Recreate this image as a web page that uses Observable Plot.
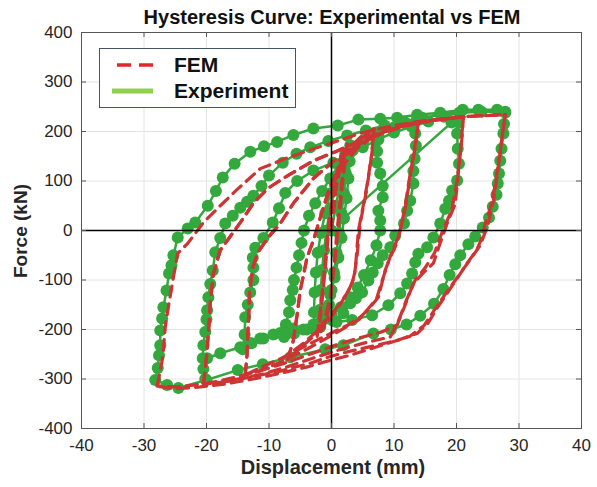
<!DOCTYPE html>
<html>
<head>
<meta charset="utf-8">
<script src="https://cdn.jsdelivr.net/npm/d3@7"></script>
<script src="https://cdn.jsdelivr.net/npm/@observablehq/plot@0.6"></script>
<style>
  body { margin: 0; background: #fff; }
  #chart { width: 597px; height: 487px; }
  svg text { font-family: "Liberation Sans", Arial, sans-serif; }
</style>
</head>
<body>
<div id="chart"></div>
<script>
// Axis ticks
const xTicks = [-40, -30, -20, -10, 0, 10, 20, 30, 40];
const yTicks = [-400, -300, -200, -100, 0, 100, 200, 300, 400];

// Experimental record, [displacement mm, force kN], in loading order
const expSmall = [
  [0,0],[0.7,50],[1.4,95],[2.0,130],[2.5,150],
  [2.3,115],[2.0,75],[1.6,35],[1.2,-5],[0.8,-45],[0.4,-85],[0,-120],[-0.4,-150],[-1.0,-175],[-1.8,-195],
  [-1.8,-160],[-1.7,-120],[-1.5,-80],[-1.2,-40],[-0.8,0],[-0.2,45],[0.6,90],[1.4,125],[2.2,155],[3.0,172],
  [2.9,140],[2.7,105],[2.4,65],[2.0,25],[1.6,-15],[1.1,-55],[0.5,-95],[-0.2,-130],[-0.9,-160],[-1.8,-185],[-2.8,-200]
];
const exp7 = [
  [-2.8,-165],[-2.7,-125],[-2.5,-85],[-2.2,-45],[-1.7,-5],[-1.0,35],[-0.2,75],[0.8,110],[2.0,140],[3.4,162],[5.0,180],[7.0,197],
  [7.2,181],[7.3,160],[7.3,137],[7.8,115],[8.2,90],[8.2,67],[7.5,40],[7.8,20],[7.8,0],[7.2,-30],[6.3,-60],[5.2,-90],[4.2,-115],
  [3.0,-135],[1.5,-155],[0,-172],[-2,-188],[-4,-200],[-6,-208],[-7.6,-215]
];
const exp14 = [
  [-7.3,-190],[-6.8,-165],[-6.6,-141],[-6.2,-120],[-6,-100],[-5.6,-75],[-5.2,-50],[-4.8,-25],[-4.4,0],[-3.6,30],[-2.6,55],
  [-1.5,80],[-0.2,105],[1.4,135],[3,158],[5,178],[7.5,195],[10,208],[12,216],[13.6,222],
  [13.4,196],[13.5,171],[13.3,145],[13.1,120],[13.1,95],[12.6,60],[12.1,40],[11.6,14],[10.2,-10],[9.4,-34],[8.2,-50],[7.4,-66],
  [6.6,-85],[5.9,-101],[4.9,-125],[3.9,-137],[3,-147],[1.9,-167],[0.2,-182],[-2,-192],[-4.5,-200],[-7,-207],[-9.3,-210],
  [-11.4,-218],[-13,-228],[-14.2,-240]
];
const exp21 = [
  [-13.9,-210],[-13.8,-175],[-13.4,-150],[-13.0,-125],[-12.5,-100],[-12.5,-75],[-12.6,-55],[-12.2,-35],[-10.9,-15],[-9.4,16],
  [-8.4,45],[-7.4,76],[-5.5,100],[-2.9,121],[0.3,137],[2.5,150],[5,168],[7.5,184],[10,198],[12.8,210],[15.5,220],[18,230],[20.5,238],
  [20.3,218],[20.1,196],[20.2,165],[20.4,135],[20.1,101],[19.3,81],[18.8,60],[18.2,44],[17.4,14],[16.3,-14],[15.3,-34],[13.9,-47],
  [13.4,-64],[12.9,-87],[12.1,-107],[11,-127],[9.1,-151],[6.5,-171],[3.3,-181],[0.8,-185],[-2.9,-190],[-6.1,-198],[-8.2,-207],
  [-10.9,-218],[-12.8,-228],[-14.6,-236],[-17.8,-248],[-19.9,-258],[-20.5,-280],[-20.2,-300]
];
const exp28 = [
  [-20.6,-258],[-20.5,-232],[-20.2,-205],[-20,-180],[-19.9,-161],[-19.7,-135],[-19.4,-108],[-19,-81],[-18.6,-44],[-17.8,-15],
  [-17,14],[-15.8,30],[-14.6,46],[-13.5,58],[-12.5,70],[-11.2,90],[-10,111],[-7.8,137],[-5.6,155],[-3.4,168],[-0.5,181],
  [2.5,192],[5.5,202],[8.5,212],[11.5,220],[14.5,228],[17.5,234],[20.5,238],[24,240],[27.8,240],
  [27.6,215],[27.5,196],[27.2,165],[27,141],[26.8,115],[26.6,95],[26.4,72],[25.8,48],[25.2,26],[24.2,6],[23,-12],[21.9,-28],
  [20.6,-50],[19.8,-68],[18.9,-90],[17.9,-118],[16.4,-148],[14.2,-172],[12,-190],[9.5,-200],[6.7,-208],[1.9,-232],
  [-1,-240],[-6.6,-256],[-11,-270],[-15,-282],[-20,-302],[-24.5,-318],[-26.3,-312],[-28.2,-302]
];
const expOuter = [
  [-27.8,-278],[-27.6,-252],[-27.4,-232],[-27.4,-202],[-27.1,-178],[-26.9,-155],[-26.4,-121],[-26,-87],[-25.6,-70],[-25.3,-50],
  [-24.6,-14],[-23,4],[-21.8,16],[-19.8,50],[-18.5,80],[-17.4,107],[-15.5,135],[-13,159],[-10.8,170],[-8.7,179],[-6.1,193],
  [-2.9,206],[1,212],[4.3,224],[7.8,226],[10.5,228],[13.7,234],[17.4,238],[21,244],[23.5,244],[26.5,244],[27.8,238]
];
// Short jump in the recorded signal
const expJump = [[1.9,24],[19.2,218]];

// FEM response, [displacement mm, force kN], one array per half-cycle
const femSmall = [
  [0,0],[0.8,90],[1.6,140],[2.2,160],
  [1.6,90],[0.9,0],[0.3,-80],[-0.3,-140],[-1.2,-185],[-2,-200],
  [-1.4,-130],[-0.8,-50],[-0.2,30],[0.6,100],[1.5,150],[2.5,175],
  [1.8,100],[1.1,10],[0.4,-80],[-0.3,-150],[-1.2,-195],[-2.3,-215],
  [-1.6,-140],[-1.0,-60],[-0.4,20],[0.5,95],[1.8,145],[3.5,175],[5.2,195],[6.8,205]
];
const femDown7a = [[6.8,205],[6.5,160],[5.8,100],[5.0,45],[4.3,0],[3.8,-80],[3.3,-107],[2.4,-128],[1.4,-147],[-0.5,-175],[-2.2,-202],[-4.5,-228],[-6.6,-248],[-7,-260]];
const femUp7 = [[-7,-260],[-6.1,-222],[-5.5,-170],[-5,-121],[-4.4,-85],[-3.9,-54],[-2.9,-20],[-1.8,26],[-0.5,80],[1.1,127],[3,160],[5,188],[6.8,205]];
const femDown7b = [[6.8,205],[6.4,150],[5.6,80],[4.6,15],[4.1,-50],[3.6,-95],[2.8,-120],[1.6,-145],[-0.3,-180],[-2.5,-210],[-4.8,-235],[-7,-260]];
const femUp7to14 = [[-7,-260],[-6.1,-222],[-5.5,-170],[-5,-121],[-4.4,-85],[-3.9,-54],[-2.9,-20],[-1.8,26],[-0.5,75],[1.5,125],[4,165],[7,192],[10,207],[12,214],[13.9,220]];
const femDown14a = [[13.9,220],[13.6,190],[13.1,150],[12.4,100],[11.8,50],[11,0],[10.3,-30],[9.2,-60],[8.6,-80],[7.5,-135],[6,-158],[4.6,-175],[2.5,-192],[0.3,-205],[-4,-232],[-8,-258],[-11.5,-278],[-13.8,-292]];
const femUp14 = [[-13.8,-292],[-13.5,-250],[-13.4,-208],[-13.2,-160],[-13.1,-121],[-12.6,-75],[-11.8,-45],[-10.2,-15],[-8.2,14],[-6.1,55],[-2.9,105],[0.3,140],[4,172],[8,197],[11,210],[13.9,220]];
const femDown14b = [[13.9,220],[13.4,170],[12.6,110],[11.8,45],[10.8,-10],[9.6,-45],[8.4,-90],[7.2,-138],[4.4,-180],[0,-212],[-4,-240],[-8,-265],[-11.5,-284],[-13.8,-292]];
const femUp14to21 = [[-13.8,-292],[-13.5,-250],[-13.4,-208],[-13.2,-160],[-13.1,-121],[-12.6,-75],[-11.8,-45],[-10.2,-15],[-8.2,14],[-6.1,55],[-2.9,105],[0.3,140],[4,172],[8,196],[12,212],[16,222],[21.1,230]];
const femDown21a = [[21.1,230],[20.9,190],[20.4,130],[19.8,54],[18.5,14],[17.4,-25],[16.3,-66],[14.5,-88],[13.1,-107],[11.8,-150],[10.5,-191],[8,-205],[5,-215],[1,-230],[-3,-248],[-7,-266],[-11,-282],[-15,-295],[-18,-304],[-20.5,-310]];
const femUp21 = [[-20.5,-310],[-20.2,-280],[-19.9,-242],[-19.6,-190],[-19.4,-147],[-18.9,-87],[-17.8,-40],[-16.2,-12],[-14.6,16],[-12.5,55],[-10.2,85],[-7,111],[-2.9,141],[1,161],[6,190],[11,210],[16,222],[21.1,230]];
const femDown21b = [[21.1,230],[20.7,170],[20.1,100],[19.2,40],[17.8,0],[16.5,-45],[15,-75],[13.4,-100],[12,-140],[10.8,-180],[9.4,-215],[5,-228],[1,-242],[-3,-258],[-7,-275],[-11,-290],[-15,-300],[-18,-307],[-20.5,-310]];
const femUp21to28 = [[-20.5,-310],[-20.2,-280],[-19.9,-242],[-19.6,-190],[-19.4,-147],[-18.9,-87],[-17.8,-40],[-16.2,-12],[-14.6,16],[-12.5,55],[-10.2,85],[-7,111],[-2.9,141],[1,161],[6,190],[11,210],[16,222],[21,229],[24,232],[27.8,234]];
const femDown28a = [[27.8,234],[27.4,200],[26.9,150],[26.4,110],[26,80],[25.4,45],[24.6,15],[24.1,-14],[23.2,-40],[21.7,-66],[20.2,-95],[18.6,-125],[17,-155],[15.4,-188],[13.7,-208],[10.5,-222],[5.7,-236],[2.6,-245],[-0.6,-256],[-3.4,-268],[-8.2,-284],[-12.5,-295],[-16.7,-305],[-20.5,-310],[-24.7,-316],[-27.9,-314]];
const femUp28 = [[-27.9,-314],[-27.5,-290],[-27,-256],[-26.6,-195],[-26,-147],[-25.3,-95],[-24.6,-46],[-23,-26],[-20.5,16],[-17.8,50],[-15,84],[-11.4,125],[-7,147],[-2.9,165],[0.3,178],[5,198],[10,212],[15,222],[21,230],[27.8,234]];
const femDown28b = [[27.8,234],[27.2,180],[26.6,120],[25.9,60],[25,10],[23.8,-30],[22,-62],[20.3,-92],[18.4,-125],[16.6,-158],[14.8,-192],[12.5,-214],[8,-232],[3,-252],[-1,-265],[-4,-276],[-8,-288],[-12.5,-300],[-17,-310],[-21,-316],[-25,-320],[-27.9,-315]];

const seriesNames = ["FEM", "Experiment"];
const legendColors = ["#e2262b", "#92d050"];
const expColor = "#33a83c";
const femColor = "#cf3434";

const toRows = (pts, seg, pass = 0) => pts.map(([x, y]) => ({x, y, seg, pass}));
const expRows = [
  ...toRows([...expSmall, ...exp7, ...exp14, ...exp21, ...exp28, ...expOuter], "record"),
  ...toRows(expJump, "jump")
];
// first pass of each amplitude, and the repeated unloading passes
const femRows = [
  ...toRows(femSmall, "small"),
  ...toRows(femDown7a, "d7a"), ...toRows(femUp7, "u7"), ...toRows(femDown7b, "d7b", 1), ...toRows(femUp7to14, "u7b"),
  ...toRows(femDown14a, "d14a"), ...toRows(femUp14, "u14"), ...toRows(femDown14b, "d14b", 1), ...toRows(femUp14to21, "u14b"),
  ...toRows(femDown21a, "d21a"), ...toRows(femUp21, "u21"), ...toRows(femDown21b, "d21b", 1), ...toRows(femUp21to28, "u21b"),
  ...toRows(femDown28a, "d28a"), ...toRows(femUp28, "u28"), ...toRows(femDown28b, "d28b", 1)
];

const plot = Plot.plot({
  width: 597,
  height: 487,
  marginLeft: 81,
  marginRight: 16,
  marginTop: 32,
  marginBottom: 59,
  style: {fontFamily: "Liberation Sans, Arial, sans-serif", fontSize: "17px", color: "#262626", background: "#fff"},
  x: {domain: [-40, 40]},
  y: {domain: [-400, 400]},
  marks: [
    Plot.gridX(xTicks, {stroke: "#e4e4e4", strokeOpacity: 1}),
    Plot.gridY(yTicks, {stroke: "#e4e4e4", strokeOpacity: 1}),
    Plot.line(expRows, {x: "x", y: "y", z: "seg", stroke: expColor, strokeWidth: 2.5}),
    Plot.dot(expRows, {x: "x", y: "y", r: 6, fill: expColor}),
    Plot.line(femRows, {filter: d => d.pass === 0, x: "x", y: "y", z: "seg", stroke: femColor, strokeWidth: 3.2, strokeDasharray: "11,7"}),
    Plot.line(femRows, {filter: d => d.pass === 1, x: "x", y: "y", z: "seg", stroke: femColor, strokeWidth: 3.2, strokeDasharray: "11,7", strokeDashoffset: 9}),
    Plot.ruleX([0], {stroke: "#000", strokeWidth: 1.5}),
    Plot.ruleY([0], {stroke: "#000", strokeWidth: 1.5}),
    // inward tick marks on all four sides
    Plot.ruleX(xTicks, {x: d => d, y1: -400, y2: -390, stroke: "#555"}),
    Plot.ruleX(xTicks, {x: d => d, y1: 400, y2: 390, stroke: "#555"}),
    Plot.ruleY(yTicks, {y: d => d, x1: -40, x2: -39.2, stroke: "#555"}),
    Plot.ruleY(yTicks, {y: d => d, x1: 40, x2: 39.2, stroke: "#555"}),
    Plot.frame({stroke: "#555"}),
    Plot.axisX(xTicks, {tickSize: 0, tickPadding: 10, label: null, tickFormat: d => String(d)}),
    Plot.axisY(yTicks, {tickSize: 0, tickPadding: 9, label: null, tickFormat: d => String(d)})
  ]
});

document.getElementById("chart").appendChild(plot);

const svg = d3.select(plot);
const font = "Liberation Sans, Arial, sans-serif";

svg.append("text")
  .attr("x", 332).attr("y", 24)
  .attr("text-anchor", "middle")
  .attr("font-family", font).attr("font-weight", "bold").attr("font-size", 20)
  .attr("fill", "#111")
  .text("Hysteresis Curve: Experimental vs FEM");

svg.append("text")
  .attr("x", 333).attr("y", 474)
  .attr("text-anchor", "middle")
  .attr("font-family", font).attr("font-weight", "bold").attr("font-size", 20)
  .attr("fill", "#262626")
  .text("Displacement (mm)");

svg.append("text")
  .attr("transform", "translate(27,231) rotate(-90)")
  .attr("text-anchor", "middle")
  .attr("font-family", font).attr("font-weight", "bold").attr("font-size", 19)
  .attr("fill", "#262626")
  .text("Force (kN)");

// Legend
const lg = svg.append("g");
lg.append("rect")
  .attr("x", 99.5).attr("y", 48.5).attr("width", 196).attr("height", 59)
  .attr("fill", "#fff").attr("stroke", "#44546a").attr("stroke-width", 1);
lg.append("line")
  .attr("x1", 117).attr("x2", 153).attr("y1", 65).attr("y2", 65)
  .attr("stroke", legendColors[0]).attr("stroke-width", 3.5).attr("stroke-dasharray", "14,8");
lg.append("line")
  .attr("x1", 112).attr("x2", 153).attr("y1", 91).attr("y2", 91)
  .attr("stroke", legendColors[1]).attr("stroke-width", 5);
seriesNames.forEach((name, i) => {
  lg.append("text")
    .attr("x", 174).attr("y", 72 + i * 26)
    .attr("text-anchor", "start")
    .attr("font-family", font).attr("font-weight", "bold").attr("font-size", 21)
    .attr("fill", "#111")
    .text(name);
});
</script>
</body>
</html>
